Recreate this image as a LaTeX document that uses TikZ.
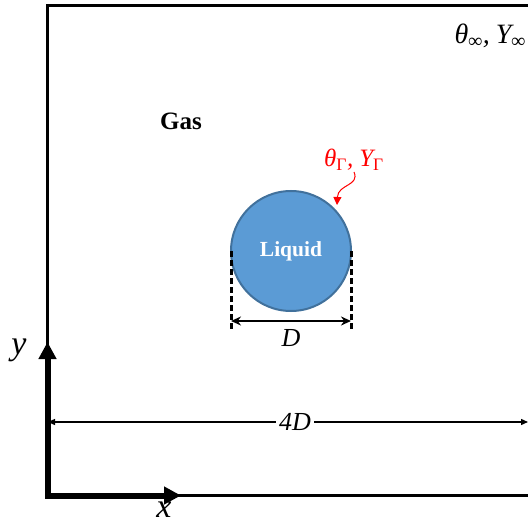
\documentclass[tikz,border=0pt]{standalone}
\usepackage{fontspec}
\setmainfont{Liberation Serif}
\usetikzlibrary{arrows.meta}
\definecolor{liqfill}{RGB}{91,155,213}
\definecolor{liqdraw}{RGB}{65,113,156}
\tikzset{
  frame/.style={line width=3pt},
  axis/.style={line width=6pt, -{Triangle[length=17pt,width=17pt]}},
  dimline/.style={line width=2pt, {Stealth[length=10pt,width=9pt]}-{Stealth[length=10pt,width=9pt]}},
  widthline/.style={line width=1.3pt, -{Triangle[length=7pt,width=6pt]}},
  dashline/.style={line width=3pt, dash pattern=on 6pt off 3pt},
  lbl/.style={inner sep=1pt},
}
\begin{document}
\begin{tikzpicture}[x=1pt,y=-1pt]
\useasboundingbox (0,0) rectangle (528,524);
% frame
\draw[frame] (535,5.5) -- (47.5,5.5) -- (47.5,495.5) -- (535,495.5);
% axes
\coordinate (o) at (47.5,495.5);
\coordinate (xend) at (181,495.5);
\coordinate (yend) at (47.5,342);
\fill (44.5,492.5) rectangle (50.5,498.5);
\draw[axis] (o) -- (xend);
\draw[axis] (o) -- (yend);
\node[lbl, font=\itshape\fontsize{34}{34}\selectfont] (xl) at (164,510) {x};
\node[lbl, font=\itshape\fontsize{34}{34}\selectfont] (yl) at (19,350) {y};
% width 4D
\node[lbl, font=\itshape\fontsize{26}{26}\selectfont, inner sep=3pt] (fourD) at (295,422) {4D};
\coordinate (wl) at (48,422);
\coordinate (wr) at (528,422);
\draw[widthline] (fourD.west) -- (wl);
\draw[widthline] (fourD.east) -- (wr);
% droplet
\node[circle, draw=liqdraw, fill=liqfill, line width=2pt, minimum size=120pt, inner sep=0pt] (drop) at (291,251) {};
\node[lbl, text=white, font=\bfseries\fontsize{21.5}{21.5}\selectfont] (liq) at (291,251) {Liquid};
% diameter
\coordinate (dl0) at (231,251);
\coordinate (dl1) at (231,329);
\coordinate (dr0) at (351,251);
\coordinate (dr1) at (351,329);
\draw[dashline] (dl0) -- (dl1);
\draw[dashline] (dr0) -- (dr1);
\coordinate (al) at (231,321);
\coordinate (ar) at (351,321);
\draw[dimline] (al) -- (ar);
\node[lbl, font=\itshape\fontsize{26}{26}\selectfont] (D) at (291,338) {D};
% labels
\node[lbl, font=\bfseries\fontsize{25}{25}\selectfont] (gas) at (181,121) {Gas};
\node[lbl, font=\fontsize{28}{28}\selectfont, anchor=east] (inf) at (527,36) {\itshape θ\textsubscript{∞},\hspace{6pt}Y\textsubscript{∞}};
\node[lbl, text=red, font=\fontsize{25}{25}\selectfont] (gam) at (354,160) {\itshape θ\textsubscript{\upshape Γ},\hspace{6pt}Y\textsubscript{\upshape Γ}};
\coordinate (rs) at (354,172);
\coordinate (re) at (337,205);
\draw[red, line width=1pt, -{Triangle[length=8pt,width=8pt]}] (rs) .. controls (360,186) and (338,184) .. (re);
\end{tikzpicture}
\end{document}
